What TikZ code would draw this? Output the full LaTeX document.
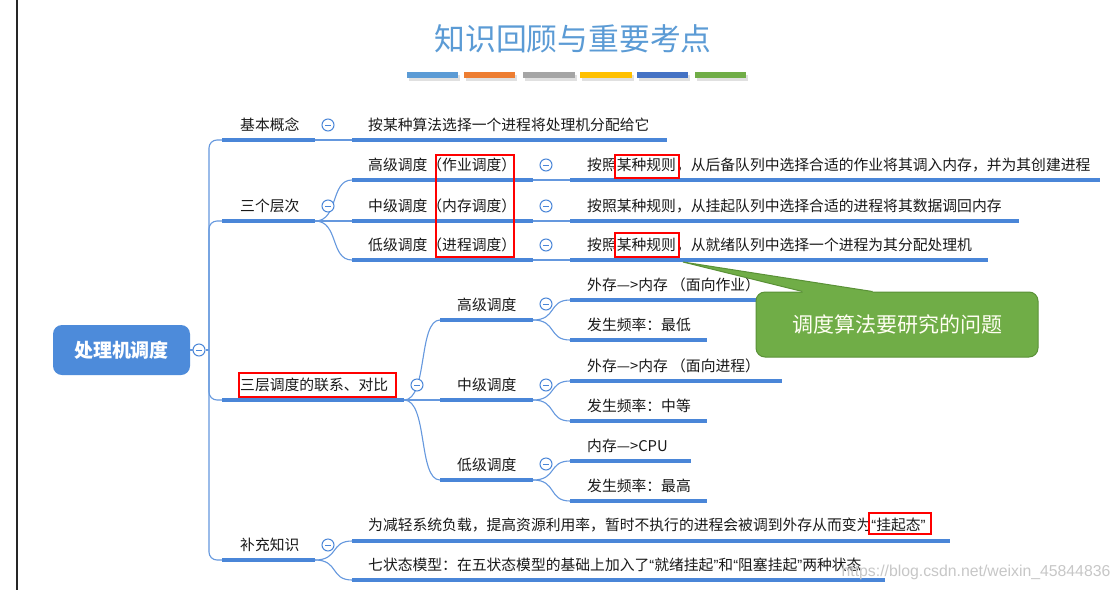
\documentclass[tikz,border=0pt]{standalone}
\usepackage{fontspec}
\setmainfont{Noto Sans CJK SC}
\setsansfont{Liberation Sans}
\newfontfamily\quotefont{Liberation Sans}
\newcommand{\qopen}{{\quotefont “}}
\newcommand{\qclose}{{\quotefont ”}}
\usetikzlibrary{calc}
\usepackage{xcolor}
\definecolor{lineblue}{RGB}{74,134,216}
\definecolor{rootblue}{RGB}{77,139,218}
\definecolor{titleblue}{RGB}{91,155,213}
\definecolor{notegreen}{RGB}{112,173,71}
\definecolor{notedark}{RGB}{90,145,55}
\definecolor{bar1}{RGB}{91,155,213}
\definecolor{bar2}{RGB}{237,125,49}
\definecolor{bar3}{RGB}{165,165,165}
\definecolor{bar4}{RGB}{255,192,0}
\definecolor{bar5}{RGB}{68,114,196}
\definecolor{bar6}{RGB}{112,173,71}

\tikzset{
	topic/.style={anchor=west,inner sep=0pt,text=black!90,font=\fontsize{14.8}{16}\selectfont},
	uline/.style={line width=3.5pt,lineblue},
	conn/.style={line width=1.1pt,lineblue!85},
	twig/.style={to path={.. controls +(24,0) and +(-22,0) .. (\tikztotarget) \tikztonodes}},
	fold/.style={circle,draw=lineblue,line width=1pt,fill=white,minimum size=12pt,inner sep=0pt,
		path picture={\draw[lineblue,line width=1pt] ([xshift=-3pt]path picture bounding box.center) -- ([xshift=3pt]path picture bounding box.center);}},
	redbox/.style={draw=red,line width=2pt},
}

\begin{document}
\begin{tikzpicture}[x=1pt,y=-1pt]
	\useasboundingbox[fill=white] (0,0) rectangle (1120,590);
	\draw[line width=2pt,black!85] (17,0) -- (17,590);

	% title and colour bars
	\node(title) at (573,39)[text=titleblue,font=\fontsize{30.8}{32}\selectfont]{知识回顾与重要考点};
	\foreach \i/\xa/\xb in {1/407/458,2/464/515,3/523/575,4/580/632,5/637/688,6/695/746}{
		\fill[black!12] (\xa+1.5,74.5) rectangle (\xb+1.5,80.5);
		\fill[bar\i] (\xa,72) rectangle (\xb,78);
	}

	% root
	\node(root) at (121.5,350)[fill=rootblue,rounded corners=9pt,minimum width=137pt,minimum height=50pt,text=white,font=\fontsize{19}{20}\selectfont\bfseries]{处理机调度};
	\node(rootf) at (199,350)[fold]{};
	\coordinate (trunk) at (209,350);
	\draw[conn] (root.east) -- (rootf.west);
	\draw[conn] (rootf.east) -- (trunk);

	% first level
	\node(A) at (240,125)[topic]{基本概念};
	\draw[uline] (222,140) coordinate (A-l) -- (315,140) coordinate (A-r);
	\node(B) at (240,206)[topic]{三个层次};
	\draw[uline] (222,221) coordinate (B-l) -- (315,221) coordinate (B-r);
	\node(C) at (240,385)[topic]{三层调度的联系、对比};
	\draw[uline] (222,400) coordinate (C-l) -- (404,400) coordinate (C-r);
	\node(D) at (240,545)[topic]{补充知识};
	\draw[uline] (222,560) coordinate (D-l) -- (315,560) coordinate (D-r);

	\draw[conn,rounded corners=8pt] (trunk) |- (A-l);
	\draw[conn,rounded corners=8pt] (trunk) |- (B-l);
	\draw[conn,rounded corners=8pt] (trunk) |- (C-l);
	\draw[conn,rounded corners=8pt] (trunk) |- (D-l);

	% basic concept
	\node(A1) at (368,125)[topic]{按某种算法选择一个进程将处理机分配给它};
	\draw[uline] (352,140) coordinate (A1-l) -- (667,140) coordinate (A1-r);
	\draw[conn] (A-r) -- (A1-l);

	% three levels
	\node(B1) at (368,165)[topic]{高级调度（作业调度）};
	\draw[uline] (352,180) coordinate (B1-l) -- (533,180) coordinate (B1-r);
	\node(B2) at (368,206)[topic]{中级调度（内存调度）};
	\draw[uline] (352,221) coordinate (B2-l) -- (533,221) coordinate (B2-r);
	\node(B3) at (368,245)[topic]{低级调度（进程调度）};
	\draw[uline] (352,260) coordinate (B3-l) -- (533,260) coordinate (B3-r);
	\draw[conn] (B-r) to[twig] (B1-l);
	\draw[conn] (B-r) -- (B2-l);
	\draw[conn] (B-r) to[twig] (B3-l);

	\node(B1a) at (587,165)[topic]{按照某种规则，从后备队列中选择合适的作业将其调入内存，并为其创建进程};
	\draw[uline] (570,180) coordinate (B1a-l) -- (1100,180) coordinate (B1a-r);
	\node(B2a) at (587,206)[topic]{按照某种规则，从挂起队列中选择合适的进程将其数据调回内存};
	\draw[uline] (570,221) coordinate (B2a-l) -- (1019,221) coordinate (B2a-r);
	\node(B3a) at (587,245)[topic]{按照某种规则，从就绪队列中选择一个进程为其分配处理机};
	\draw[uline] (570,260) coordinate (B3a-l) -- (988,260) coordinate (B3a-r);
	\draw[conn] (B1-r) -- (B1a-l);
	\draw[conn] (B2-r) -- (B2a-l);
	\draw[conn] (B3-r) -- (B3a-l);

	% comparison
	\node(C1) at (457,305)[topic]{高级调度};
	\draw[uline] (440,320) coordinate (C1-l) -- (533,320) coordinate (C1-r);
	\node(C2) at (457,385)[topic]{中级调度};
	\draw[uline] (440,400) coordinate (C2-l) -- (533,400) coordinate (C2-r);
	\node(C3) at (457,465)[topic]{低级调度};
	\draw[uline] (440,480) coordinate (C3-l) -- (533,480) coordinate (C3-r);
	\draw[conn] (C-r) to[twig] (C1-l);
	\draw[conn] (C-r) -- (C2-l);
	\draw[conn] (C-r) to[twig] (C3-l);

	\node(C1a) at (587,285)[topic]{外存—>内存 （面向作业）};
	\draw[uline] (570,300) coordinate (C1a-l) -- (782,300) coordinate (C1a-r);
	\node(C1b) at (587,325)[topic]{发生频率：最低};
	\draw[uline] (570,340) coordinate (C1b-l) -- (707,340) coordinate (C1b-r);
	\node(C2a) at (587,366)[topic]{外存—>内存 （面向进程）};
	\draw[uline] (570,381) coordinate (C2a-l) -- (782,381) coordinate (C2a-r);
	\node(C2b) at (587,406)[topic]{发生频率：中等};
	\draw[uline] (570,421) coordinate (C2b-l) -- (707,421) coordinate (C2b-r);
	\node(C3a) at (587,446)[topic]{内存—>CPU};
	\draw[uline] (570,461) coordinate (C3a-l) -- (691,461) coordinate (C3a-r);
	\node(C3b) at (587,486)[topic]{发生频率：最高};
	\draw[uline] (570,501) coordinate (C3b-l) -- (707,501) coordinate (C3b-r);
	\draw[conn] (C1-r) to[twig] (C1a-l);
	\draw[conn] (C1-r) to[twig] (C1b-l);
	\draw[conn] (C2-r) to[twig] (C2a-l);
	\draw[conn] (C2-r) to[twig] (C2b-l);
	\draw[conn] (C3-r) to[twig] (C3a-l);
	\draw[conn] (C3-r) to[twig] (C3b-l);

	% extra knowledge
	\node(D1) at (368,525)[topic]{为减轻系统负载，提高资源利用率，暂时不执行的进程会被调到外存从而变为\qopen 挂起态\qclose};
	\draw[uline] (352,541) coordinate (D1-l) -- (950,541) coordinate (D1-r);
	\node(D2) at (368,565)[topic]{七状态模型：在五状态模型的基础上加入了\qopen 就绪挂起\qclose 和\qopen 阻塞挂起\qclose 两种状态};
	\draw[uline] (352,580) coordinate (D2-l) -- (885,580) coordinate (D2-r);
	\draw[conn] (D-r) to[twig] (D1-l);
	\draw[conn] (D-r) to[twig] (D2-l);

	% fold marks
	\node(Af) at (328,125)[fold]{};
	\node(Bf) at (328,206)[fold]{};
	\node(Cf) at (417,385)[fold]{};
	\node(Df) at (328,545)[fold]{};
	\node(B1f) at (546,165)[fold]{};
	\node(B2f) at (546,206)[fold]{};
	\node(B3f) at (546,245)[fold]{};
	\node(C1f) at (546,304)[fold]{};
	\node(C2f) at (546,385)[fold]{};
	\node(C3f) at (546,464)[fold]{};

	% red marks
	\draw[redbox] (436,155) rectangle (514,257);
	\draw[redbox] (615,155) rectangle (679,178);
	\draw[redbox] (615,233) rectangle (679,257);
	\draw[redbox] (239,373) rectangle (396,397);
	\draw[redbox] (869,513) rectangle (931,534);

	% callout
	\node(note) at (897,324.5)[fill=notegreen,draw=notedark,line width=1pt,rounded corners=9pt,minimum width=282pt,minimum height=65pt,text=white!95!yellow,font=\fontsize{21}{22}\selectfont]{调度算法要研究的问题};
	\coordinate (tip) at (683,262);
	\fill[notegreen] ($(note.north west)+(47,0)$) -- (tip) -- ($(note.north west)+(117,0)$) -- ($(note.north west)+(117,2)$) -- ($(note.north west)+(47,2)$) -- cycle;
	\draw[notedark,line width=1pt] ($(note.north west)+(47,0)$) -- (tip) -- ($(note.north west)+(117,0)$);

	\node(mark) at (976,572)[text=black!22,font=\sffamily\fontsize{15.8}{16}\selectfont]{https://blog.csdn.net/weixin\_45844836};
\end{tikzpicture}
\end{document}
